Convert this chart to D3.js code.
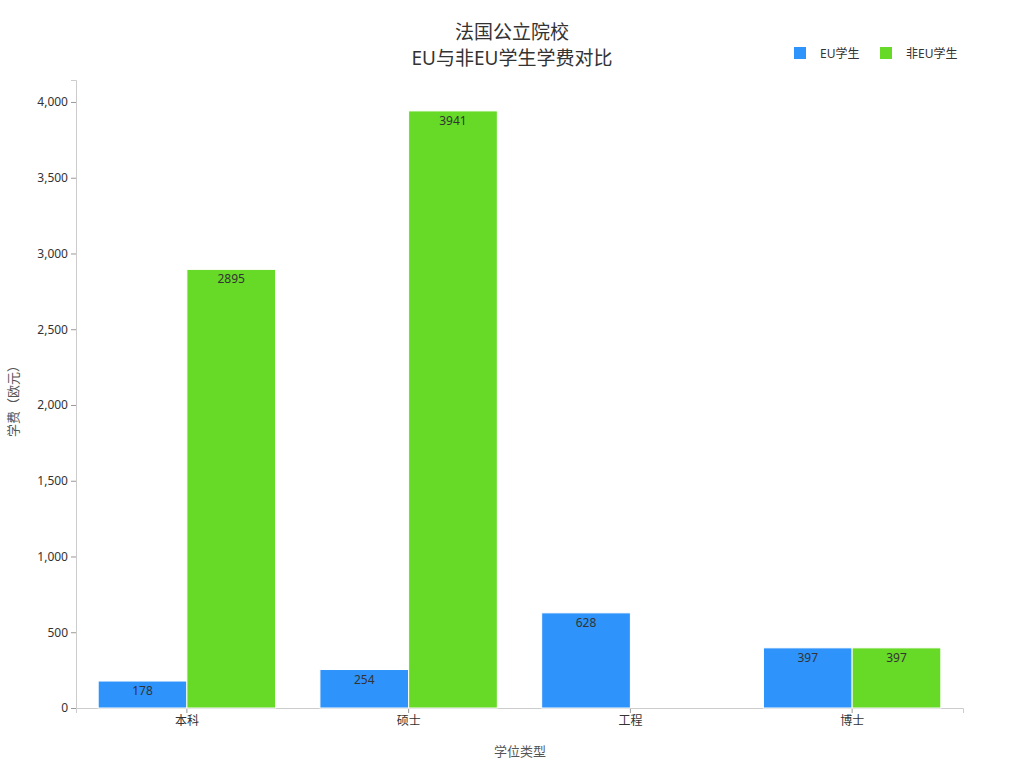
<!DOCTYPE html>
<html><head><meta charset="utf-8">
<script src="https://cdn.jsdelivr.net/npm/d3@7"></script>
<style>body{margin:0;background:#fff;font-family:"Noto Sans","Noto Sans CJK SC",sans-serif}</style>
</head><body><svg id="c" width="1024" height="768"></svg>
<script>
const categories = ["本科","硕士","工程","博士"];
const seriesNames = ["EU学生","非EU学生"];
const euValues = [178,254,628,397];
const nonEuValues = [2895,3941,null,397];
const yTicks = [0,500,1000,1500,2000,2500,3000,3500,4000];
const colors = ["#2e93fa","#66da26"];

const svg = d3.select("#c");
const font = '"Noto Sans","Noto Sans CJK SC",sans-serif';
const x0 = d3.scaleBand().domain(categories).range([76,963]).paddingInner(0.2).paddingOuter(0.1);
const x1 = d3.scaleBand().domain(seriesNames).range([0,x0.bandwidth()]);
const y = d3.scaleLinear().domain([0,4145]).range([708,80]);

const yAx = svg.append("g").attr("transform","translate(76,0)").call(d3.axisLeft(y).tickValues(yTicks).tickSize(5));
yAx.select(".domain").attr("stroke","#ccc");
yAx.selectAll(".tick line").attr("stroke","#999");
yAx.selectAll("text").attr("font-size",12).attr("fill","#333").attr("font-family",font);
const xAx = svg.append("g").attr("transform","translate(0,708)").call(d3.axisBottom(x0).tickSize(5));
xAx.select(".domain").attr("stroke","#ccc");
xAx.selectAll(".tick line").attr("stroke","#999");
xAx.selectAll("text").attr("font-size",12).attr("fill","#333").attr("font-family",font);

const data = [euValues, nonEuValues];
data.forEach((vals,si)=>{
  vals.forEach((v,i)=>{
    if(v==null) return;
    const bx = x0(categories[i])+x1(seriesNames[si]);
    svg.append("rect").attr("x",bx).attr("y",y(v)).attr("width",x1.bandwidth()).attr("height",y(0)-y(v))
      .attr("fill",colors[si]).attr("stroke","#fff").attr("stroke-width",1);
    svg.append("text").attr("x",bx+x1.bandwidth()/2).attr("y",y(v)+14).attr("text-anchor","middle")
      .attr("font-size",12).attr("fill","#333").attr("font-family",font).text(v);
  });
});

svg.append("text").attr("x",512).attr("y",39).attr("text-anchor","middle").attr("font-size",19).attr("fill","#333").attr("font-family",font).text("法国公立院校");
svg.append("text").attr("x",512).attr("y",65).attr("text-anchor","middle").attr("font-size",19).attr("fill","#333").attr("font-family",font).text("EU与非EU学生学费对比");
svg.append("text").attr("x",520).attr("y",756).attr("text-anchor","middle").attr("font-size",13).attr("fill","#555").attr("font-family",font).text("学位类型");
svg.append("text").attr("transform","translate(18,398) rotate(-90)").attr("text-anchor","middle").attr("font-size",13).attr("fill","#555").attr("font-family",font).text("学费（欧元）");

const lg = [[794,820],[880,906]];
seriesNames.forEach((s,i)=>{
  svg.append("rect").attr("x",lg[i][0]).attr("y",47).attr("width",12).attr("height",12).attr("fill",colors[i]);
  svg.append("text").attr("x",lg[i][1]).attr("y",58).attr("font-size",12).attr("fill","#333").attr("font-family",font).text(s);
});
</script></body></html>
